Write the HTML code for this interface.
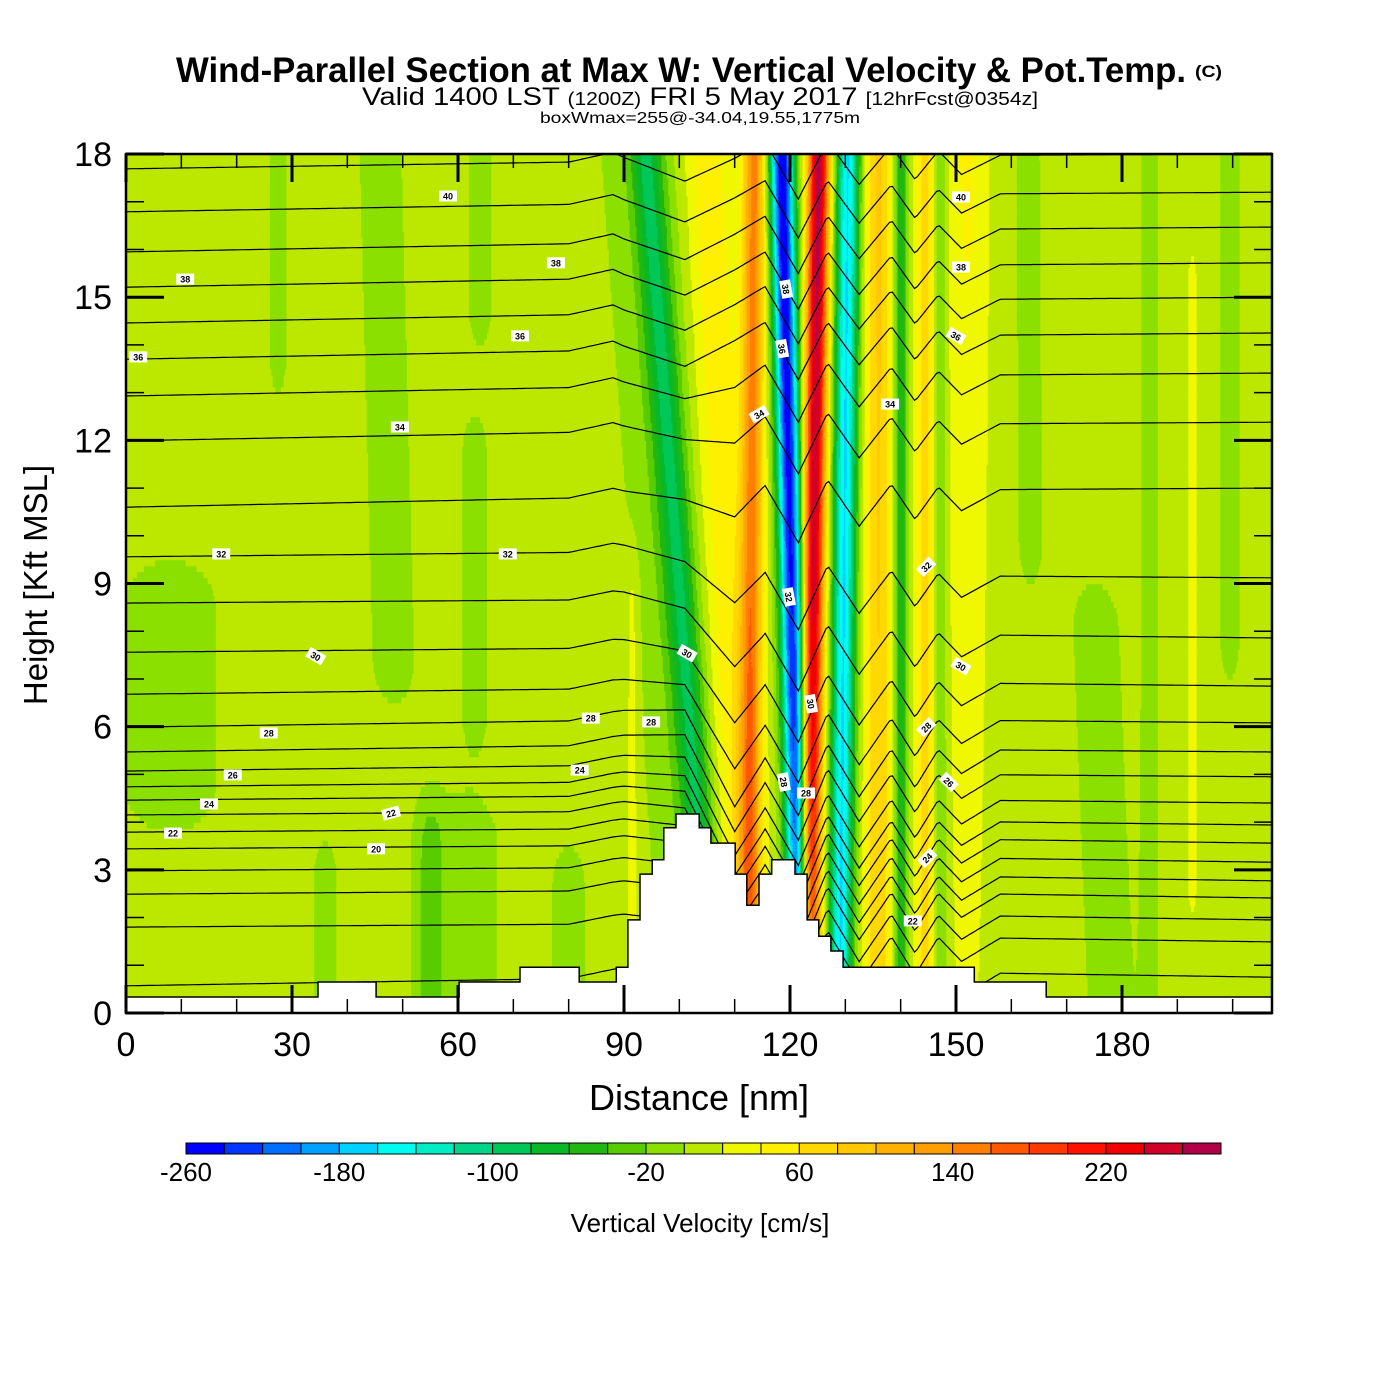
<!DOCTYPE html>
<html><head><meta charset="utf-8">
<style>
html,body{margin:0;padding:0;background:#fff;}
svg{display:block;font-family:"Liberation Sans",sans-serif;}
</style></head>
<body>
<svg id="chart" width="1400" height="1400" viewBox="0 0 1400 1400">
<rect x="0" y="0" width="1400" height="1400" fill="#fff"/>
<g>
<text x="176" y="82" font-size="35" font-weight="bold" textLength="1010" lengthAdjust="spacingAndGlyphs">Wind-Parallel Section at Max W: Vertical Velocity &amp; Pot.Temp.</text>
<text x="1195" y="77" font-size="17" font-weight="bold" textLength="27" lengthAdjust="spacingAndGlyphs">(C)</text>
<text x="362" y="105" font-size="25" textLength="676" lengthAdjust="spacingAndGlyphs">Valid 1400 LST <tspan font-size="18">(1200Z)</tspan> FRI 5 May 2017 <tspan font-size="18">[12hrFcst@0354z]</tspan></text>
<text x="540" y="123" font-size="16" textLength="320" lengthAdjust="spacingAndGlyphs">boxWmax=255@-34.04,19.55,1775m</text>
</g>
<defs><clipPath id="plotClip"><rect x="126" y="154" width="1146" height="859"/></clipPath></defs>
<g id="field" clip-path="url(#plotClip)"></g>
<g id="theta" clip-path="url(#plotClip)"></g>
<g id="terrain" clip-path="url(#plotClip)"></g>
<g id="clabels"></g>
<g id="ticks"></g>
<rect x="126" y="154" width="1146" height="859" fill="none" stroke="#000" stroke-width="2.5"/>
<g id="xlabels"></g>
<g id="ylabels"></g>
<text x="699" y="1110" font-size="36" text-anchor="middle">Distance [nm]</text>
<text transform="translate(47,585) rotate(-90)" font-size="33" text-anchor="middle">Height [Kft MSL]</text>
<g id="colorbar"></g>
<text x="700" y="1232" font-size="26" text-anchor="middle">Vertical Velocity [cm/s]</text>
</svg>
<script>
// ---- data ----
const colorLevels = ["#0000ff","#0036ff","#006eff","#00a0ff","#00d2ff","#00fcf0","#00ecc4","#00d488","#00c858","#08b828","#20b810","#58cc00","#8ce000","#bce800","#f0f800","#fff000","#ffd800","#ffc800","#ffb000","#ffa000","#ff8000","#ff5800","#ff3800","#ff1000","#f00000","#d00028","#b00048"];
const colorbarLabels = [-260,-180,-100,-20,60,140,220];
const xTickLabels = [0,30,60,90,120,150,180];
const yTickLabels = [0,3,6,9,12,15,18];
const backgroundW = 8;
const stripeXBottom = [27.5,50,64,63,8,36,60,55,80,91.5,106,104,112,112.5,122,123.3,129,136,140,144.5,147,152,164,178,185,192.7,199.5];
const stripeXTop    = [27.5,46,64,63,8,36,60,55,80,91.5,94,93,105,113.5,118.5,125.2,130.5,136,140,144.5,147,152,163,172,185,192.7,199.5];
const stripeSigma   = [1.3,3.2,1.8,2.0,7,1.8,6,1.5,2.5,0.8,2.0,5,3,1.4,1.5,1.4,1.5,1.8,0.9,1.4,0.9,2.8,1.8,3.5,1.2,0.8,1.5];
const stripeAmpBottom = [-16,-16,-16,-16,-16,-16,-16,-35,-16,22,-75,-22,50,130,-240,230,-170,70,-70,60,-40,15,-16,-16,-16,20,-16];
const stripeAmpTop    = [-16,-16,-16,-16,-16,-16,-16,-35,-16,22,-75,-22,45,140,-270,260,-170,75,-70,60,-40,35,-16,-16,-16,20,-16];
const stripeHMin = [14,7.5,15,6.5,4.8,0,0,0,0,2,0,0,0,0,0,0,0,0,0,0,0,0,10,0,0,3,8];
const stripeHMax = [18.5,18.5,18.5,11.5,8.5,2.6,3.6,3.2,2.5,8.5,18.5,18.5,18.5,18.5,18.5,18.5,18.5,18.5,18.5,18.5,18.5,18.5,18.5,8,18.5,15,18.5];

const thetaLevels = [17,18,19,20,21,22,23,24,25,26,27,28,29,30,31,32,33,34,35,36,37,38,39,40,41];
const thetaLeftKft  = [0.57,1.80,2.49,2.98,3.44,3.79,4.15,4.46,4.74,5.07,5.47,5.99,6.68,7.56,8.59,9.56,10.60,11.99,12.93,13.70,14.46,15.21,15.95,16.79,17.69];
const thetaRightKft = [0.2,0.75,1.49,1.95,2.41,2.77,3.16,3.56,3.94,4.40,4.95,5.47,6.08,6.85,7.86,9.12,11.0,12.38,13.41,14.25,15.0,15.72,16.47,17.2,18.0];
const blendX = [0,90,115,207];
const blendW = [0,0.15,0.85,1];
const waveX      = [0,80,88,101,110,115.5,121.5,126.8,132.5,138.3,142.6,146.8,151,158,207];
const waveUpper  = [0,0.1,0.3,-0.4,0.0,0.3,-0.9,0.3,-0.6,0.2,-0.5,0.1,-0.4,0,0];
const waveLower  = [0,0.2,0.4,0.6,-1.3,-0.2,-1.4,0.1,-1.0,0.0,-0.8,0.0,-0.5,0,0];

const terrainStart = [0,34.7,45.2,60.2,71.2,81.9,88.6,90.7,92.9,95.1,97.2,99.4,103.6,105.7,110.1,112.2,114.4,116.7,120.9,123.1,125.2,127.4,129.6,153.3,166.3];
const terrainKft   = [0.335,0.65,0.335,0.65,0.96,0.65,0.96,1.95,2.91,3.21,3.88,4.17,3.88,3.56,2.91,2.26,2.91,3.21,2.91,1.95,1.61,1.30,0.96,0.65,0.335];
const terrainEnd = 207.2;

const labelText = ["40","38","38","36","36","34","32","32","30","28","28","28","26","24","24","22","22","20","30","38","36","34","32","30","28","28","34","32","30","28","26","24","22","40","38","36"];
const labelX = [58.2,10.7,77.7,2.2,71.2,49.5,17.2,69.0,34.3,25.8,84.0,94.9,19.3,82.0,15.0,47.9,8.5,45.2,101.4,119.3,118.6,114.4,119.8,123.8,118.9,122.9,138.1,144.6,150.9,144.6,148.7,144.8,142.2,150.9,150.9,150.0];
const labelH = [17.12,15.38,15.72,13.75,14.19,12.28,9.62,9.62,7.48,5.87,6.18,6.10,4.99,5.09,4.38,4.19,3.77,3.44,7.54,15.17,13.92,12.55,8.72,6.48,4.84,4.61,12.76,9.35,7.27,5.99,4.84,3.25,1.93,17.1,15.63,14.19];
const labelAngle = [0,0,0,0,0,0,0,0,30,0,0,0,0,0,0,-15,0,0,30,80,80,-30,80,80,80,0,0,-45,30,-45,45,-45,0,0,0,30];

// ---- scales ----
const X = nm => 126 + nm * 5.5333;
const Y = h => 1013 - h * 47.72;
const NS = "http://www.w3.org/2000/svg";
function mk(tag, attrs, parent){ const e=document.createElementNS(NS,tag); for(const k in attrs) e.setAttribute(k,attrs[k]); parent.appendChild(e); return e; }
function interp(xs, ys, x){ if(x<=xs[0]) return ys[0]; for(let i=1;i<xs.length;i++){ if(x<=xs[i]){ const t=(x-xs[i-1])/(xs[i]-xs[i-1]); return ys[i-1]+t*(ys[i]-ys[i-1]); } } return ys[ys.length-1]; }
function colorFor(v){ let i=Math.floor((v+260)/20); if(i<0)i=0; if(i>26)i=26; return colorLevels[i]; }

function W(x,h){
  let v=backgroundW;
  for(let s=0;s<stripeXBottom.length;s++){
    const f=h/18;
    const xc=stripeXBottom[s]+(stripeXTop[s]-stripeXBottom[s])*f;
    const a=stripeAmpBottom[s]+(stripeAmpTop[s]-stripeAmpBottom[s])*f;
    const d=(x-xc)/stripeSigma[s];
    if(Math.abs(d)>5) continue;
    let win=1;
    if(h<stripeHMin[s]) win=Math.exp(-Math.pow((stripeHMin[s]-h)/1.2,2));
    else if(h>stripeHMax[s]) win=Math.exp(-Math.pow((h-stripeHMax[s])/1.2,2));
    v+=a*Math.exp(-0.5*d*d)*win;
  }
  return v;
}

// ---- field ----
const field=document.getElementById('field');
const dx=0.25, dh=0.125;
for(let h=0;h<18;h+=dh){
  let runStart=0, runColor=null;
  const y0=Y(h+dh), hh=dh*47.72+0.6;
  for(let x=0;x<=207.5;x+=dx){
    const c=colorFor(W(x+dx/2,h+dh/2));
    if(c!==runColor){
      if(runColor!==null){
        const r=mk('rect',{x:X(runStart).toFixed(2),y:y0.toFixed(2),width:(X(x)-X(runStart)+0.6).toFixed(2),height:hh.toFixed(2),fill:runColor},field);
        
        
      }
      runStart=x; runColor=c;
    }
  }
  const r=mk('rect',{x:X(runStart).toFixed(2),y:y0.toFixed(2),width:(X(207.5)-X(runStart)+0.6).toFixed(2),height:hh.toFixed(2),fill:runColor},field);
  
  
}

// ---- theta contours ----
const thetaG=document.getElementById('theta');
thetaLevels.forEach((th,i)=>{
  const t=Math.min(1,Math.max(0,(th-28)/8));
  let pts=[];
  for(let x=0;x<=207.5;x+=0.5){
    const w=interp(blendX,blendW,x);
    const base=thetaLeftKft[i]*(1-w)+thetaRightKft[i]*w;
    const d=interp(waveX,waveLower,x)*(1-t)+interp(waveX,waveUpper,x)*t;
    pts.push(X(x).toFixed(1)+','+Y(base+d).toFixed(1));
  }
  const p=mk('polyline',{points:pts.join(' '),fill:'none',stroke:'#000','stroke-width':1.2},thetaG);
  
  
});

// ---- terrain ----
const terr=document.getElementById('terrain');
let d='M'+X(0)+','+Y(0);
for(let i=0;i<terrainStart.length;i++){
  const x1=(i+1<terrainStart.length)?terrainStart[i+1]:terrainEnd;
  d+=' L'+X(terrainStart[i]).toFixed(1)+','+Y(terrainKft[i]).toFixed(1)+' L'+X(x1).toFixed(1)+','+Y(terrainKft[i]).toFixed(1);
}
d+=' L'+X(terrainEnd)+','+Y(0)+' Z';
const tp=mk('path',{d:d,fill:'#fff',stroke:'#000','stroke-width':1.5},terr);



// ---- contour labels ----
const cl=document.getElementById('clabels');
labelText.forEach((s,i)=>{
  const g=mk('g',{transform:'translate('+X(labelX[i]).toFixed(1)+','+Y(labelH[i]).toFixed(1)+') rotate('+labelAngle[i]+')'},cl);
  
  
  mk('rect',{x:-9,y:-5.5,width:18,height:11,fill:'#fff'},g);
  const tx=mk('text',{x:0,y:3.5,'font-size':9,'font-weight':'bold','text-anchor':'middle'},g);
  tx.textContent=s;
});

// ---- ticks ----
const tk=document.getElementById('ticks');
for(let v=0;v<=200;v+=10){
  const major=v%30===0, L=major?28:14, sw=major?3:1.5;
  const l1=mk('line',{x1:X(v),y1:1013,x2:X(v),y2:1013-L,stroke:'#000','stroke-width':sw},tk);
  
  
  const l2=mk('line',{x1:X(v),y1:154,x2:X(v),y2:154+L,stroke:'#000','stroke-width':sw},tk);
  
  
}
for(let v=0;v<=18;v+=1){
  const major=v%3===0, L=major?38:18, sw=major?3:1.5;
  const l1=mk('line',{x1:126,y1:Y(v),x2:126+L,y2:Y(v),stroke:'#000','stroke-width':sw},tk);
  
  
  const l2=mk('line',{x1:1272,y1:Y(v),x2:1272-L,y2:Y(v),stroke:'#000','stroke-width':sw},tk);
  
  
}
const xl=document.getElementById('xlabels');
xTickLabels.forEach(v=>{
  const t=mk('text',{x:X(v),y:1056,'font-size':34,'text-anchor':'middle'},xl);
  
  
  t.textContent=v;
});
const yl=document.getElementById('ylabels');
yTickLabels.forEach(v=>{
  const t=mk('text',{x:112,y:Y(v)+12,'font-size':34,'text-anchor':'end'},yl);
  
  
  t.textContent=v;
});

// ---- colorbar ----
const cb=document.getElementById('colorbar');
const bw=1035/colorLevels.length;
colorLevels.forEach((c,i)=>{
  const r=mk('rect',{x:(186+i*bw).toFixed(2),y:1143,width:bw.toFixed(2),height:11,fill:c,stroke:'#000','stroke-width':1},cb);
  
  
});
colorbarLabels.forEach(v=>{
  const t=mk('text',{x:(186+(v+260)/20*bw).toFixed(1),y:1181,'font-size':26,'text-anchor':'middle'},cb);
  
  
  t.textContent=v;
});
</script>
</body></html>
